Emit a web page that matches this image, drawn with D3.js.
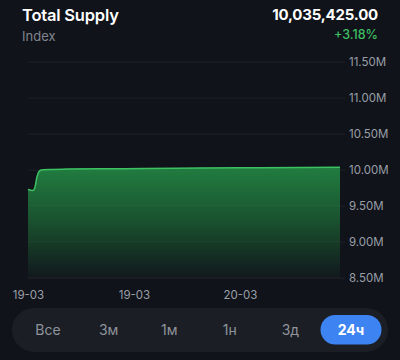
<!DOCTYPE html>
<html><head><meta charset="utf-8">
<script src="https://cdn.jsdelivr.net/npm/d3@7/dist/d3.min.js"></script>
<style>
html,body{margin:0;padding:0;background:#10131a;}
svg{display:block;font-family:Inter,"Noto Sans",sans-serif;}
</style></head>
<body>
<svg id="c" width="400" height="360"></svg>
<script>
// Data (hours from start of 24h window, supply value)
const hours  = [0, 0.38, 0.54, 0.69, 0.85, 1.0, 1.2, 1.7, 3, 5.5, 9, 13.2, 18, 24];
const values = [9726085, 9712000, 9760000, 9900000, 9975000, 9995000, 10000000, 10004000, 10008000, 10012000, 10017000, 10022000, 10028000, 10035425];
const yTicks = [8500000, 9000000, 9500000, 10000000, 10500000, 11000000, 11500000];
const xTickHours  = [0, 8.15, 16.3];
const xTickLabels = ["19-03", "19-03", "20-03"];
const buttons = ["Все", "3м", "1м", "1н", "3д", "24ч"];
const title = "Total Supply", subtitle = "Index", lastValue = "10,035,425.00", change = "+3.18%";

const svg = d3.select("#c");
const x = d3.scaleLinear().domain([0, 24]).range([28, 340]);
const y = d3.scaleLinear().domain([8500000, 11500000]).range([277.7, 61.7]);

// header
svg.append("text").attr("x", 22).attr("y", 20.5).attr("fill", "#ffffff")
  .attr("font-size", 16.5).attr("font-weight", 600).attr("letter-spacing", -0.2).text(title);
svg.append("text").attr("x", 22).attr("y", 41).attr("fill", "#80858e")
  .attr("font-size", 13).text(subtitle);
svg.append("text").attr("x", 378).attr("y", 20).attr("fill", "#ffffff").attr("text-anchor", "end")
  .attr("font-size", 15).attr("font-weight", 700).attr("letter-spacing", -0.2).text(lastValue);
svg.append("text").attr("x", 378).attr("y", 39).attr("fill", "#3fbf62").attr("text-anchor", "end")
  .attr("font-size", 12.5).attr("font-weight", 500).text(change);

// gradient
const defs = svg.append("defs");
const g = defs.append("linearGradient").attr("id", "ag").attr("gradientUnits", "userSpaceOnUse")
  .attr("x1", 0).attr("x2", 0).attr("y1", y(10035425)).attr("y2", y(8500000));
g.append("stop").attr("offset", 0).attr("stop-color", "#217d40");
g.append("stop").attr("offset", 0.45).attr("stop-color", "#1a5530");
g.append("stop").attr("offset", 1).attr("stop-color", "#12181c");

// y grid + labels
const yAxis = d3.axisRight(y).tickValues(yTicks).tickSize(317)
  .tickFormat(d => (d / 1e6).toFixed(2) + "M").tickPadding(4);
const ya = svg.append("g").attr("transform", "translate(28,0)").call(yAxis);
ya.select(".domain").remove();
ya.selectAll("line").attr("stroke", "#1d2027").attr("stroke-width", 1);
ya.selectAll("text").attr("fill", "#9a9fa7").attr("font-size", 11.5)
  .attr("font-family", "Inter,'Noto Sans',sans-serif");

const data = hours.map((h, i) => ({h, v: values[i]}));
const area = d3.area().x(d => x(d.h)).y0(y(8500000)).y1(d => y(d.v)).curve(d3.curveMonotoneX);
const line = d3.line().x(d => x(d.h)).y(d => y(d.v)).curve(d3.curveMonotoneX);
svg.append("path").datum(data).attr("d", area).attr("fill", "url(#ag)");
// redraw grid lines lightly over area
svg.append("g").selectAll("line").data(yTicks.slice(0, 3)).join("line")
  .attr("x1", 28).attr("x2", 340).attr("y1", d => y(d)).attr("y2", d => y(d))
  .attr("stroke", "#ffffff").attr("stroke-opacity", 0.04);
svg.append("path").datum(data).attr("d", line).attr("fill", "none")
  .attr("stroke", "#3cc262").attr("stroke-width", 1.5);

// x axis labels
const xAxis = d3.axisBottom(x).tickValues(xTickHours).tickSize(0)
  .tickFormat((d, i) => xTickLabels[i]).tickPadding(0);
const xa = svg.append("g").attr("transform", "translate(0,293)").call(xAxis);
xa.select(".domain").remove();
xa.selectAll("text").attr("fill", "#9a9fa7").attr("font-size", 11.5)
  .attr("font-family", "Inter,'Noto Sans',sans-serif").attr("dy", "0.5em");

// button bar
svg.append("rect").attr("x", 12).attr("y", 308).attr("width", 376).attr("height", 44)
  .attr("rx", 22).attr("fill", "#1b1e25");
const bx = d3.scalePoint().domain(buttons).range([48, 351]);
svg.append("rect").attr("x", bx("24ч") - 30.5).attr("y", 315).attr("width", 61).attr("height", 29.5)
  .attr("rx", 14.75).attr("fill", "#3d84f2");
svg.append("g").selectAll("text").data(buttons).join("text")
  .attr("x", d => bx(d)).attr("y", 335).attr("text-anchor", "middle")
  .attr("font-size", 14)
  .attr("font-weight", d => d === "24ч" ? 700 : 400)
  .attr("fill", d => d === "24ч" ? "#ffffff" : "#8f949c")
  .text(d => d);
</script>
</body></html>
